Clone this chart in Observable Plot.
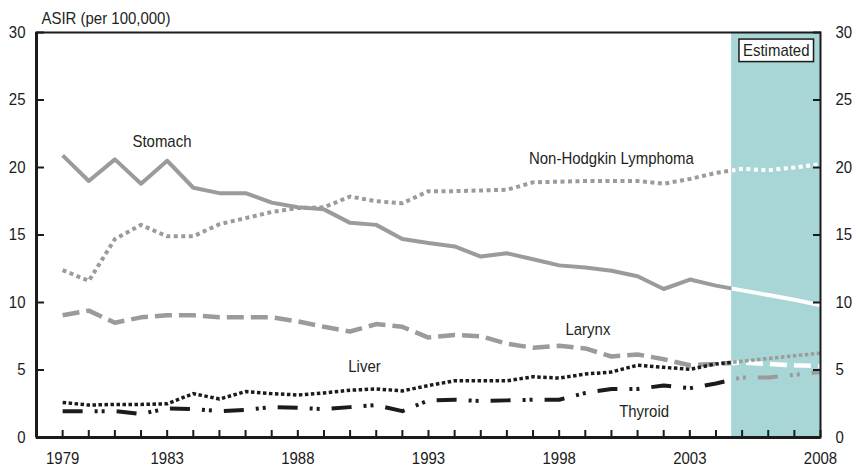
<!DOCTYPE html>
<html><head><meta charset="utf-8">
<script src="https://cdn.jsdelivr.net/npm/d3@7"></script>
<script src="https://cdn.jsdelivr.net/npm/@observablehq/plot@0.6"></script>
<style>
body{margin:0;background:#fff;}
#chart svg{font-family:"Liberation Sans",Arial,sans-serif;}
</style></head><body><div id="chart"></div>
<script>
const years = [1979,1980,1981,1982,1983,1984,1985,1986,1987,1988,1989,1990,1991,1992,1993,1994,1995,1996,1997,1998,1999,2000,2001,2002,2003,2004,2005,2006,2007,2008];
const stomach = [20.9,19.0,20.6,18.8,20.5,18.5,18.1,18.1,17.4,17.05,16.9,15.9,15.75,14.7,14.4,14.15,13.4,13.65,13.2,12.75,12.6,12.35,11.95,11.0,11.7,11.25,10.9,10.55,10.2,9.8];
const nhl = [12.4,11.6,14.7,15.75,14.9,14.9,15.8,16.25,16.7,17.0,17.05,17.85,17.5,17.35,18.25,18.25,18.3,18.35,18.9,18.95,19.0,19.0,19.0,18.8,19.15,19.6,19.9,19.8,20.0,20.25];
const larynx = [9.05,9.4,8.5,8.9,9.05,9.05,8.9,8.9,8.9,8.6,8.2,7.85,8.4,8.2,7.4,7.6,7.5,6.95,6.65,6.8,6.6,6.0,6.15,5.8,5.35,5.45,5.55,5.45,5.35,5.3];
const liver = [2.6,2.4,2.45,2.45,2.5,3.25,2.85,3.4,3.25,3.15,3.3,3.5,3.6,3.45,3.85,4.2,4.2,4.2,4.5,4.4,4.7,4.85,5.35,5.2,5.05,5.45,5.65,5.85,6.05,6.25];
const thyroid = [1.95,1.95,1.95,1.75,2.15,2.1,1.95,2.05,2.25,2.2,2.1,2.25,2.4,1.95,2.75,2.8,2.7,2.75,2.8,2.8,3.3,3.6,3.6,3.85,3.65,4.0,4.45,4.45,4.65,4.85];
const estimatedFrom = 2004.6;
const yTicks = [0,5,10,15,20,25,30];
const xLabelYears = [1979,1983,1988,1993,1998,2003,2008];
const labelNames = ["Stomach","Non-Hodgkin Lymphoma","Larynx","Liver","Thyroid"];
const labelYears = [1982.8,2000,1999.1,1990.55,2001.25];
const labelValues = [21.9,20.7,8.0,5.26,1.93];

const gray = "#9b9b9b", black = "#1b1b1b", teal = "#a8d5d5";
const lastYear = years[years.length-1];
const rows = vals => years.map((y,i)=>({year:y, value:vals[i]}));

const series = [
  {vals: stomach, obs: gray, est: "#ffffff", w: 4, dash: null},
  {vals: nhl, obs: gray, est: "#ffffff", w: 4, dash: "4,3.5"},
  {vals: larynx, obs: gray, est: "#ffffff", w: 4.5, dash: "17,7"},
  {vals: liver, obs: black, est: gray, w: 3.5, dash: "3.5,2.5"},
  {vals: thyroid, obs: black, est: gray, w: 4, dash: "20,12,3,4,3,12"}
];

const lineMarks = [];
for (const s of series) {
  for (const kind of ["observed","estimated"]) {
    const opts = {x:"year", y:"value", stroke: kind==="observed"?s.obs:s.est,
      strokeWidth: s.w, strokeLinecap:"butt", strokeLinejoin:"round", ariaDescription: kind};
    if (s.dash) opts.strokeDasharray = s.dash;
    lineMarks.push(Plot.line(rows(s.vals), opts));
  }
}

const labels = labelNames.map((n,i)=>({name:n, year:labelYears[i], value:labelValues[i]}));

const svg = Plot.plot({
  width: 857, height: 471,
  marginLeft: 36, marginRight: 37, marginTop: 32, marginBottom: 34,
  x: {domain: [1978, lastYear], label: null},
  y: {domain: [0, 30], label: null},
  style: {fontSize: "17px", color: black, background: "#fff"},
  marks: [
    Plot.rect([{start: estimatedFrom, end: lastYear}], {x1:"start", x2:"end", fill: teal}),
    ...lineMarks,
    Plot.axisY({ticks: yTicks, anchor:"left", tickSize:-8, tickPadding:19, strokeWidth:2, fontSize:17, label:null}),
    Plot.axisY({ticks: yTicks, anchor:"right", tickSize:-8, tickPadding:23, strokeWidth:2, fontSize:17, label:null}),
    Plot.axisX({ticks: years, anchor:"bottom", tickSize:-7, strokeWidth:2, tickFormat: () => "", label:null}),
    Plot.axisX({ticks: xLabelYears, anchor:"bottom", tickSize:0, tickPadding:14, fontSize:17, tickFormat: d => String(d), label:null}),
    Plot.frame({stroke: black, strokeWidth: 2}),
    Plot.ruleX([1978], {stroke: black, strokeWidth: 3}),
    Plot.ruleY([0], {stroke: black, strokeWidth: 3}),
    Plot.text(labels, {x:"year", y:"value", text:"name", fontSize:17, fill:"#231f20"}),
    Plot.text(["ASIR (per 100,000)"], {frameAnchor:"top-left", textAnchor:"start", lineAnchor:"bottom", dx:5, dy:-9, fontSize:17, fill:"#231f20"}),
    Plot.text(["Estimated"], {frameAnchor:"top-right", textAnchor:"end", lineAnchor:"top", dx:-11, dy:11, fontSize:17, fill:"#231f20", ariaDescription:"estimated-label"})
  ]
});
document.getElementById("chart").append(svg);

// condense text horizontally (narrow sans look)
svg.querySelectorAll("text").forEach(t => {
  const len = t.getComputedTextLength();
  if (len > 0) {
    t.setAttribute("textLength", (len * 0.88).toFixed(2));
    t.setAttribute("lengthAdjust", "spacingAndGlyphs");
  }
});

const ns = "http://www.w3.org/2000/svg";
const xs = svg.scale("x");
const xa = xs.apply(estimatedFrom);
const defs = document.createElementNS(ns, "defs");
function addClip(id, x0, x1) {
  const cp = document.createElementNS(ns, "clipPath");
  cp.setAttribute("id", id);
  cp.setAttribute("clipPathUnits", "userSpaceOnUse");
  const r = document.createElementNS(ns, "rect");
  r.setAttribute("x", x0); r.setAttribute("y", 0);
  r.setAttribute("width", x1 - x0); r.setAttribute("height", 471);
  cp.append(r); defs.append(cp);
}
if (isFinite(xa)) {
  addClip("clip-obs", 0, xa);
  addClip("clip-est", xa, 857);
  svg.insertBefore(defs, svg.firstChild);
  svg.querySelectorAll('g[aria-description="observed"]').forEach(g => g.setAttribute("clip-path", "url(#clip-obs)"));
  svg.querySelectorAll('g[aria-description="estimated"]').forEach(g => g.setAttribute("clip-path", "url(#clip-est)"));
}

const eg = svg.querySelector('g[aria-description="estimated-label"]');
if (eg) {
  const t = eg.querySelector("text");
  const b = t.getBBox();
  const m = t.getCTM();
  const p = svg.createSVGPoint(); p.x = b.x; p.y = b.y;
  const q = p.matrixTransform(m);
  const box = document.createElementNS(ns, "rect");
  const pad = 4;
  box.setAttribute("x", q.x - pad); box.setAttribute("y", q.y - 1.5);
  box.setAttribute("width", b.width + 2*pad); box.setAttribute("height", b.height + 3.5);
  box.setAttribute("fill", "#fff"); box.setAttribute("stroke", black); box.setAttribute("stroke-width", 1.5);
  svg.insertBefore(box, eg);
}
</script></body></html>
